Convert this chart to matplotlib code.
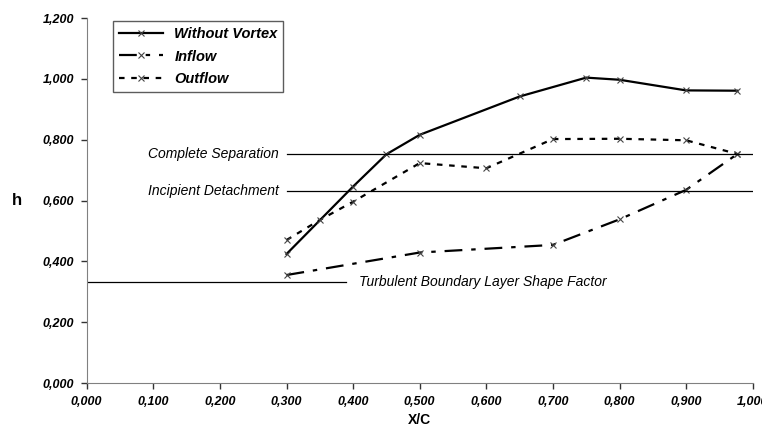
import matplotlib.pyplot as plt
from matplotlib.ticker import FuncFormatter

plt.rcParams['font.family'] = ['Liberation Sans', 'DejaVu Sans']

# data
x_wo = [0.300, 0.400, 0.450, 0.500, 0.650, 0.750, 0.800, 0.900, 0.977]
h_wo = [0.424, 0.646, 0.752, 0.816, 0.942, 1.004, 0.997, 0.962, 0.961]

x_in = [0.300, 0.500, 0.700, 0.800, 0.900, 0.977]
h_in = [0.355, 0.429, 0.454, 0.538, 0.635, 0.753]

x_out = [0.300, 0.350, 0.400, 0.500, 0.600, 0.700, 0.800, 0.900, 0.977]
h_out = [0.470, 0.536, 0.596, 0.723, 0.706, 0.802, 0.803, 0.798, 0.753]

ref_names = ['Complete Separation', 'Incipient Detachment', 'Turbulent Boundary Layer Shape Factor']
ref_vals = [0.752, 0.631, 0.333]
ref_x0 = [0.300, 0.300, 0.000]
ref_x1 = [1.000, 1.000, 0.390]

fig = plt.figure(figsize=(7.62, 4.34), dpi=100)
ax = fig.add_axes([0.1138, 0.1175, 0.874, 0.841])

mk = dict(marker='x', markersize=5, markeredgewidth=0.8, markeredgecolor='#444444')
ax.plot(x_wo, h_wo, color='black', lw=1.6, linestyle='-', label='Without Vortex', **mk)
ax.plot(x_in, h_in, color='black', lw=1.6, linestyle=(0, (8, 4, 2, 4)), label='Inflow', **mk)
ax.plot(x_out, h_out, color='black', lw=1.6, linestyle=(0, (2.5, 3)), label='Outflow', **mk)

for name, v, a, b in zip(ref_names, ref_vals, ref_x0, ref_x1):
    ax.plot([a, b], [v, v], color='black', lw=0.9)
ax.text(0.288, ref_vals[0], ref_names[0], ha='right', va='center', fontsize=10, style='italic')
ax.text(0.288, ref_vals[1], ref_names[1], ha='right', va='center', fontsize=10, style='italic')
ax.text(0.409, ref_vals[2], ref_names[2], ha='left', va='center', fontsize=10, style='italic')

ax.set_xlim(0, 1.0)
ax.set_ylim(0, 1.2)
ax.set_xticks([i / 10 for i in range(11)])
ax.set_yticks([i / 5 for i in range(7)])
fmt = FuncFormatter(lambda v, p: ('%.3f' % v).replace('.', ','))
ax.xaxis.set_major_formatter(fmt)
ax.yaxis.set_major_formatter(fmt)
for lab in ax.get_xticklabels() + ax.get_yticklabels():
    lab.set_fontweight('bold')
    lab.set_fontstyle('italic')
    lab.set_fontsize(9)
ax.tick_params(direction='out', length=4, width=1, color='#333333', pad=5)
ax.spines['top'].set_visible(False)
ax.spines['right'].set_visible(False)
ax.spines['left'].set_color('#808080')
ax.spines['bottom'].set_color('#808080')

ax.set_xlabel('X/C', fontweight='bold', fontsize=10)
fig.text(17 / 762, 1 - 201 / 434, 'h', fontweight='bold', fontsize=12, ha='center', va='center')

leg = ax.legend(loc='upper left', bbox_to_anchor=(113 / 762, 1 - 21 / 434), bbox_transform=fig.transFigure,
                borderaxespad=0, frameon=True, fancybox=False, edgecolor='#333333',
                handlelength=3.0, handletextpad=0.8, borderpad=0.4, labelspacing=0.6,
                prop={'weight': 'bold', 'style': 'italic', 'size': 10.5})
leg.get_frame().set_linewidth(1.0)

fig.savefig('out.png', dpi=100)
